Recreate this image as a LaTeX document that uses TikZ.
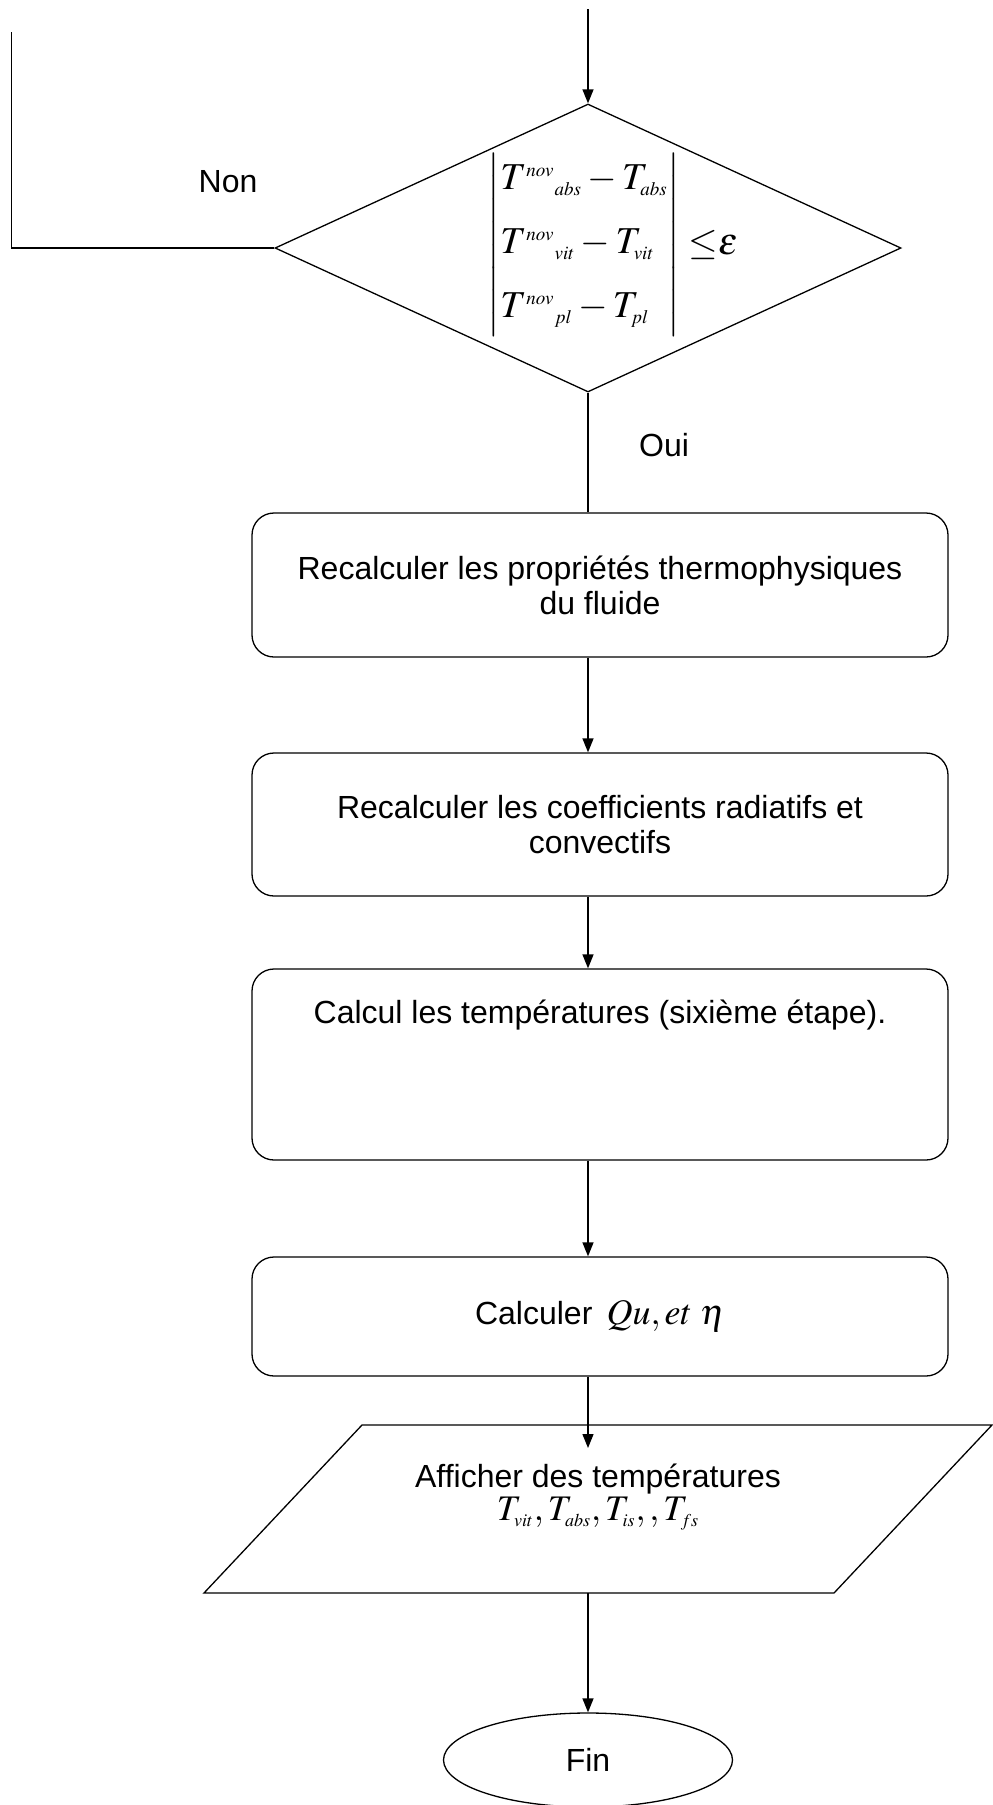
\documentclass[tikz,border=0pt]{standalone}
\usepackage{amsmath,amssymb}
\usepackage{mathptmx}
\usepackage[no-math]{fontspec}
\setmainfont{Liberation Sans}
\usetikzlibrary{shapes.geometric, arrows.meta, positioning}
\DeclareMathSizes{19}{19}{9.5}{7}
\DeclareMathSizes{18}{18}{9}{7}
\DeclareMathSizes{16}{16}{9}{7}

\begin{document}
\begin{tikzpicture}[
    x=0.5pt, y=-0.5pt,
    line width=0.65pt,
    font=\fontsize{16}{17.5}\selectfont,
    flow/.style={-{Triangle[length=7pt,width=5.5pt]}},
    box/.style={rectangle, draw, rounded corners=11pt, minimum width=348pt, align=center, inner sep=2pt},
    decision/.style={diamond, draw, aspect=2.17, minimum width=313pt, minimum height=144pt, inner sep=0pt},
    ending/.style={ellipse, draw, minimum width=144.5pt, minimum height=47pt}
]
\useasboundingbox (0,0) rectangle (992,1805);

% test de convergence
\coordinate (entree) at (588,9);
\coordinate (retour) at (11.5,32);
\node[decision] (test) at (588,248) {};
\node[font=\fontsize{19}{22}\selectfont, inner sep=0pt] (crit) at (613,245)
    {$\left|\begin{array}{@{}l@{}}
        T^{nov}{}_{abs} - T_{abs}\\[10pt]
        T^{nov}{}_{vit} - T_{vit}\\[10pt]
        T^{nov}{}_{pl} - T_{pl}
    \end{array}\right|\mkern2mu{\le}\varepsilon$};
\node (non) at (228,182) {Non};
\node (oui) at (664,445) {Oui};

% etapes de calcul
\node[box, minimum height=72pt] (fluide) at (600,585)
    {Recalculer les propriétés thermophysiques\\du fluide};
\node[box, minimum height=71.5pt] (coeffs) at (600,824.5)
    {Recalculer les coefficients radiatifs et\\convectifs};
\node[box, minimum height=95.5pt, text height=11pt, text depth=52.5pt] (temp) at (600,1064.5)
    {Calcul les températures (sixième étape).};
\node[box, minimum height=59.5pt] (qu) at (600,1316.5)
    {Calculer\ \,{\fontsize{18}{17.5}\selectfont$Qu,et\;\eta$}};

% affichage
\coordinate (aff-nw) at (362,1425);
\coordinate (aff-ne) at (992,1425);
\coordinate (aff-se) at (834,1593);
\coordinate (aff-sw) at (204,1593);
\draw (aff-nw) -- (aff-ne) -- (aff-se) -- (aff-sw) -- cycle;
\coordinate (aff-in) at (588,1448);
\coordinate (aff-out) at (588,1593);
\node[align=center] (affiche) at (598,1497)
    {Afficher des températures\\[-1pt]{\fontsize{18}{17.5}\selectfont$T_{vit},T_{abs},T_{is},,T_{fs}$}};

\node[ending] (fin) at (588,1760) {Fin};

% liaisons
\draw[flow] (entree) -- (test.north);
\draw (test.west) -| (retour);
\draw (test.south) -- (fluide.north -| test.south);
\draw[flow] (fluide.south -| test.south) -- (coeffs.north -| test.south);
\draw[flow] (coeffs.south -| test.south) -- (temp.north -| test.south);
\draw[flow] (temp.south -| test.south) -- (qu.north -| test.south);
\draw[flow] (qu.south -| test.south) -- (aff-in);
\draw[flow] (aff-out) -- (fin.north);
\end{tikzpicture}
\end{document}
